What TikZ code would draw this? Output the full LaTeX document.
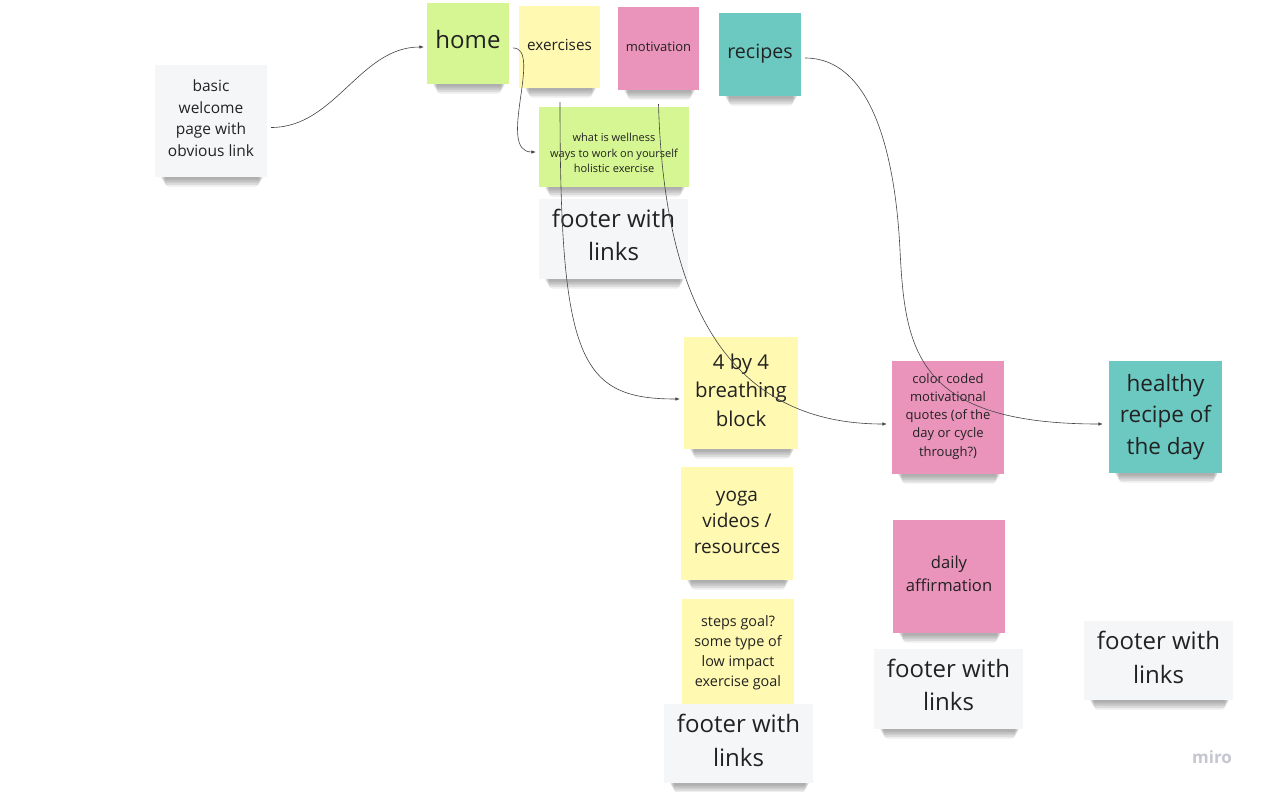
\documentclass[tikz,border=0pt]{standalone}
\usepackage{fontspec}
\setmainfont{Open Sans}
\usetikzlibrary{arrows.meta}
\definecolor{ngray}{HTML}{F5F6F8}
\definecolor{ngreen}{HTML}{D5F692}
\definecolor{nyellow}{HTML}{FFF9B1}
\definecolor{npink}{HTML}{EA94BB}
\definecolor{nteal}{HTML}{6CC9C1}
\definecolor{notetext}{HTML}{222222}
\definecolor{linkc}{HTML}{444444}
\definecolor{mirogray}{HTML}{C5C7D0}
\tikzset{
  note/.style={draw=none, inner sep=0pt},
  notelabel/.style={inner sep=0pt, align=center, text=notetext},
  link/.style={draw=linkc, line width=0.6pt, -{Latex[length=4.5pt,width=3.5pt]}},
}
% \stk{name}{x1}{y1}{x2}{y2}{colour}{font size}{text shift}{text}
\newcommand{\stk}[9]{%
  \foreach \k in {1,...,5} {\fill[black,opacity=0.07,rounded corners=3pt] ({#2+5+\k},{#5-4}) rectangle ({#4-3-\k},{#5+1+1.7*\k});}
  \node[note,fill=#6,minimum width={(#4-#2)*1pt},minimum height={(#5-#3)*1pt}] (#1) at ({(#2+#4)/2},{(#3+#5)/2}) {};
  \node[notelabel,font=\fontsize{#7}{\fpeval{#7*1.39}}\selectfont] (#1-t) at ([shift={(0,#8)}]#1.center) {#9};}
\begin{document}
\begin{tikzpicture}[x=1pt,y=-1pt]
\useasboundingbox (0,0) rectangle (1261,792);
\fill[white] (0,0) rectangle (1261,792);

\stk{basic}{155}{65}{267}{177}{ngray}{15.5}{-3}{basic\\welcome\\page with\\obvious link}
\stk{home}{427}{3}{509}{84}{ngreen}{24}{-4}{home}
\stk{ex}{519}{6}{600}{88}{nyellow}{15.3}{-2}{exercises}
\stk{mot}{618}{7}{699}{90}{npink}{13}{-2}{motivation}
\stk{rec}{719}{13}{801}{96}{nteal}{19.6}{-1}{recipes}
\stk{well}{539}{107}{689}{187}{ngreen}{11}{6}{what is wellness\\ways to work on yourself\\holistic exercise}
\stk{foota}{539}{199}{688}{279}{ngray}{24}{-4}{footer with\\links}
\stk{bfour}{684}{337}{798}{449}{nyellow}{20.4}{-3}{4 by 4\\breathing\\block}
\stk{yoga}{681}{467}{793}{580}{nyellow}{19}{-1}{yoga\\videos /\\resources}
\stk{steps}{682}{599}{794}{706}{nyellow}{14.4}{0}{steps goal?\\some type of\\low impact\\exercise goal}
\stk{footb}{664}{704}{813}{783}{ngray}{24}{-3}{footer with\\links}
\stk{cc}{892}{361}{1004}{474}{npink}{13}{-1}{color coded\\motivational\\quotes (of the\\day or cycle\\through?)}
\stk{daily}{893}{520}{1005}{633}{npink}{16.6}{-3}{daily\\affirmation}
\stk{footc}{874}{649}{1023}{729}{ngray}{24}{-4}{footer with\\links}
\stk{hr}{1109}{361}{1222}{473}{nteal}{22.5}{0}{healthy\\recipe of\\the day}
\stk{footd}{1084}{621}{1233}{700}{ngray}{24}{-3}{footer with\\links}

\node[font=\fontsize{17}{17}\selectfont\bfseries, text=mirogray, inner sep=0pt] (miro) at (1212,757) {miro};

% connectors
\draw[link] ([shift={(4,6.5)}]basic.east) .. controls +(64,0) and +(-64,0) .. ([shift={(-3,3.5)}]home.west);
\draw[link] ([shift={(4,4.5)}]home.east) .. controls +(30,0) and +(-40,0) .. ([shift={(-3,5)}]well.west);
\draw[link] ([shift={(0.5,14)}]ex.south) .. controls +(0,258) and +(-100,0) .. ([shift={(-4,6)}]bfour.west);
\draw[link] ([shift={(0,14)}]mot.south) .. controls +(6,216) and +(-147,0) .. ([shift={(-5,6.5)}]cc.west);
\draw[link] ([shift={(4,3.5)}]rec.east) .. controls +(65,0) and (895,150) .. (900,250)
            .. controls (905,350) and +(-187,0) .. ([shift={(-6,7)}]hr.west);
\end{tikzpicture}
\end{document}
